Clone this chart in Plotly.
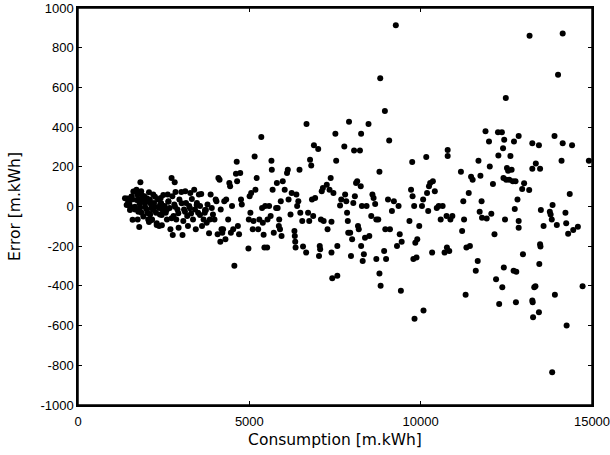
import plotly.graph_objects as go

consumption = [
    1450, 1470, 1490, 1500, 1520, 1540, 1560, 1580, 1593,
    1673, 1707, 1730, 1764, 1798, 1662, 1741, 1787, 1821, 1844, 1810, 1855, 1878,
    1935, 1958, 1992, 2026, 2049, 2071, 2094, 2117, 2140, 2003, 2162, 2105, 2071,
    2196, 2219, 2253, 2276, 2299, 2333, 2367, 2390, 2424, 2447, 2470, 2413, 2367,
    2527, 2561, 2595, 2618, 2640, 2674, 2697, 2731, 2754, 2788, 2822, 2811, 2765, 2845,
    2868, 2902, 2936, 2959, 3016, 3050, 3073, 3095, 3130, 3152, 3187, 3209, 3244, 3278, 3300, 3323,
    3357, 3391, 3414, 3437, 3471, 3505, 3528, 3562, 3596, 3619, 3665, 3699, 3733, 3756, 3779, 3824, 3847, 3870,
    3904, 3938, 3983, 4018, 4040, 4074, 4097, 4131, 4165, 4188, 4154, 4211,
    4234, 4268, 4302, 4325, 4382, 4416, 4439, 4461, 4495, 4529, 4563, 4609, 4632, 4643, 4666, 4700, 4734, 4757, 4780,
    4974, 4985, 5008, 5031, 5054, 5099, 5122, 5155, 5178, 5213, 5258, 5292, 5349, 5372, 5394, 5417, 5440, 5463, 5520, 5531, 5577,
    5622, 5645, 5656, 5679, 5713, 5781, 5804, 5827, 5861, 5872, 5895, 5918, 5940, 5975, 6032, 6100, 6123, 6145, 6202, 6236,
    6316, 6327, 6339, 6350, 6373, 6395, 6430, 6464, 6487, 6544, 6567, 6658, 6669, 6714, 6748, 6772, 6806, 6828, 6863, 6885, 6920, 7010,
    7033, 7055, 7067, 7090, 7113, 7147, 7169, 7260, 7283, 7340, 7374, 7397, 7397, 7454, 7511, 7534, 7568, 7568, 7420, 7648, 7682,
    7772, 7795, 7829, 7852, 7874, 7886, 7909, 7943, 7966, 8000, 8034, 8057, 8080, 8114, 8148, 8171, 8194, 8228, 8251, 8262, 8262, 8285, 8308, 8342, 8376, 8421, 8478, 8501,
    8558, 8592, 8626, 8672, 8706, 8706, 8763, 8797, 8797, 8820, 8831, 8934, 8956, 8968, 8991, 9047, 9081, 9104, 9161, 9218, 9275,
    9309, 9355, 9389, 9423, 9446, 9673, 9719, 9753, 9764, 9787, 9810, 9821, 9844, 9878, 9901, 9958, 10038, 10072, 10083, 10163, 10186, 10220, 10243,
    10277, 10334, 10356, 10413, 10470, 10527, 10584, 10641, 10698, 10755, 10766, 10788, 10788, 10834, 10868, 10925,
    11175, 11210, 11244, 11266, 11312, 11335, 11403, 11437, 11471, 11517, 11608, 11665, 11687, 11722, 11744, 11778, 11790, 11892,
    11927, 11994, 12017, 12062, 12109, 12154, 12200, 12256, 12268, 12291, 12370, 12382, 12404, 12416, 12427, 12438, 12461, 12484, 12495, 12518, 12552, 12586, 12620, 12654, 12689,
    12712, 12723, 12746, 12768, 12791, 12780, 12825, 12860, 12860, 12860, 12962, 12985, 13019, 13178, 13167, 13258, 13258, 13258, 13269, 13280, 13315, 13349, 13360,
    13451, 13451, 13462, 13485, 13485, 13496, 13508, 13587, 13769, 13792, 13826, 13838, 13849, 13906, 13917, 13974, 14009, 14111, 14145, 14145, 14225, 14247, 14259,
    14304, 14350, 14418, 14452, 14588, 14908, 14725,
    1371, 1420, 1469, 1517, 1566, 1615, 1663, 1712, 1761, 1809, 1858, 1907, 1955, 2004, 2053, 2101, 2150,
    2198, 2247, 2296, 2393, 2442, 2490, 2587, 2636, 2733, 2830, 2928, 3025, 3122, 3268, 3463, 3560, 3706,
]

error = [
    40, 20, 30, 10, 0, -5, 50, 35, -67,
    77, 85, 60, 35, 15, -15, -65, -103, 122, 77, -7, -32, 35,
    52, 18, -12, -32, -65, 72, 35, 15, -7, 35, -65, -40, -78,
    60, 18, -2, -32, -85, 35, -7, -40, 18, -95, -18, 43, -98,
    2, -32, -65, 60, 27, -7, -115, 144, 52, -48, 122, 10, -144, 73,
    -65, -15, -107, 35, 73, -144, -73, -15, 77, 18, -48, -98, 2, 68, -35, 38,
    -65, 85, -15, -115, 18, -32, 60, 2, 63, -98, -65, -32, -18, -82, 10, -135, -65, 60,
    -7, -40, -65, 35, 27, -140, 144, 135, -15, -115, -178, -132,
    -115, 27, -165, 35, -65, 119, 102, -132, 2, -115, -299, 165, 225, 127, -98, -140, 169, 35, 10,
    -212, -65, 52, -32, 68, -115, -73, 252, 85, 144, -115, -65, 350, -7, -82, -142, -207, 2, -207, -65, 2,
    -48, 230, 185, 85, -132, -7, 119, -7, -98, -65, -115, 27, -149, 127, 85, 169, 185, 35, -40, 68,
    -124, -149, -177, -207, 60, 2, 27, 185, -32, -73, -202, -232, 416, -32, -73, 235, 207, 35, -48, 309, 43, 290,
    -249, -199, -215, -65, 77, 93, -73, 110, -115, 85, 144, -77, -232, 68, 367, 230, -199, -349, -362, 5, 35,
    302, 60, 27, -32, -73, -132, 427, -132, -249, -165, 18, 282, 52, 119, 127, -98, -115, 282, 102, 367, -199, 2, -274, -240, -157, 2, 416, -149,
    -48, 60, 43, 13, -65, -265, -65, 175, -337, 646, -399, -224, 481, -115, -265, 35, 332, -115, -23, 27, 913,
    -199, 2, -140, -424, -178, -73, 85, 224, 52, -265, 2, -566, -182, -257, -165, -98, 2, 35, -524, 250, 68, -23, 102,
    119, -232, 127, 77, -7, 2, -65, 2, -232, -48, -207, 285, 255, -224, -65, -48,
    175, -124, 27, -65, -444, -207, 68, -199, 150, 135, -324, -274, 230, -27, 155, 27, -57, 379,
    -60, 327, 202, -37, 113, -140, -366, 374, 257, -491, 374, -407, 294, 144, -307, 336, -65, 546, 135, 194, 180, 135, 255, 185, 127,
    -324, 327, -12, 127, -329, -482, 35, 355, -73, -107, 88, -240, 117, 860, 83, 319, 190, -474, -482, -558, -407, -402, 217,
    309, -533, -290, 190, -190, -202, -18, -98, -27, -40, -65, -835, 7, 355, -444, -93, 664, 230, 319, 871, -32, -85, -599,
    -137, 63, 309, -119, -102, 230, -402,
    41, 8, 24, -18, 49, 75, -1, 33, -26, 16, 58, -51, -1, 41, -34, 24, -68,
    -18, 49, -93, 8, -43, 58, -18, 24, -59, -1, -34, 16, -26, -9, 8, -43, -18,
]

x_range = [0, 15000]
y_range = [-1000, 1000]
x_ticks = [0, 5000, 10000, 15000]
y_ticks = [-1000, -800, -600, -400, -200, 0, 200, 400, 600, 800, 1000]

tick_font = "Liberation Sans, Arial, sans-serif"
title_font = "DejaVu Sans, Verdana, sans-serif"

fig = go.Figure()
fig.add_trace(go.Scatter(
    x=consumption, y=error, mode="markers",
    marker=dict(color="black", size=6, line=dict(width=0)),
    showlegend=False, cliponaxis=False, hoverinfo="skip",
))

axis_common = dict(
    showgrid=False, zeroline=False, showline=True, linecolor="black", linewidth=1.5,
    mirror="allticks", ticks="inside", ticklen=4, tickwidth=1, tickcolor="black", automargin=False,
    tickfont=dict(family=tick_font, size=13, color="black"),
)

fig.update_layout(
    xaxis=dict(range=x_range, tickvals=x_ticks, ticktext=[str(v) for v in x_ticks],
               ticklabelstandoff=4, ticklabeloverflow="allow",
               title=dict(text="Consumption [m.kWh]", font=dict(family=title_font, size=15.5, color="black"), standoff=6),
               **axis_common),
    yaxis=dict(range=y_range, tickvals=y_ticks, ticktext=[str(v) for v in y_ticks],
               ticklabeloverflow="allow",
               title=dict(text="Error [m.kWh]", font=dict(family=title_font, size=15.5, color="black"), standoff=16),
               **axis_common),
    width=610, height=455,
    margin=dict(l=78, r=18, t=8, b=50),
    paper_bgcolor="white", plot_bgcolor="white",
    font=dict(family=tick_font, color="black"),
    hovermode=False,
)

fig.add_shape(type="rect", xref="paper", yref="paper", x0=0, x1=1, y0=0, y1=1,
              line=dict(color="black", width=1.5), fillcolor="rgba(0,0,0,0)", layer="above")

fig.write_html("out.html", config={"displayModeBar": False},
               post_script="document.body.style.margin='0';")
